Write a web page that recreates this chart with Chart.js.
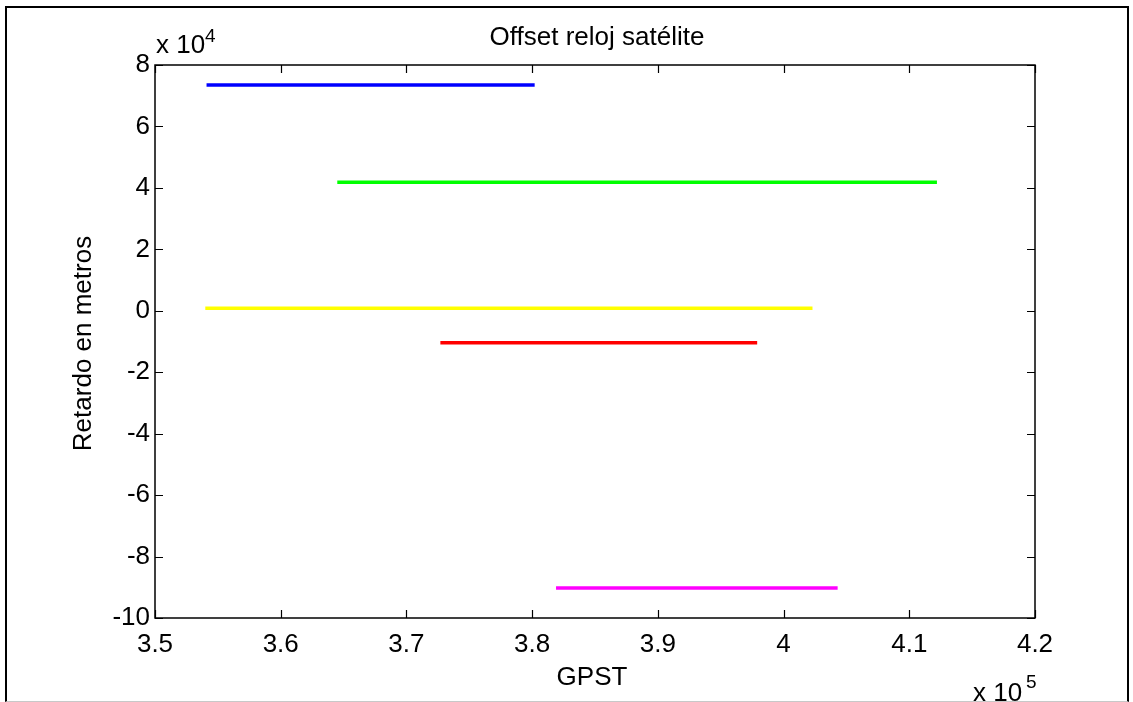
<!DOCTYPE html>
<html>
<head>
<meta charset="utf-8">
<title>Offset reloj satélite</title>
<script src="https://cdn.jsdelivr.net/npm/chart.js@4.4.1/dist/chart.umd.min.js"></script>
<style>
  html, body { margin: 0; padding: 0; background: #fff; }
  #marco {
    position: absolute; left: 5px; top: 6px; width: 1120px; height: 693px;
    border-left: 2px solid #000; border-top: 2px solid #000;
    border-right: 2px solid #000; border-bottom: 1px solid #c8c8c8;
  }
  #wrap { position: absolute; left: 0; top: 0; width: 1133px; height: 702px; }
</style>
</head>
<body>
<div id="marco"></div>
<div id="wrap"><canvas id="chart" width="1133" height="702"></canvas></div>
<script>
// inicio y fin (GPST, s) de cada satélite y su offset de reloj (m)
const tInicio = [354100, 364500, 354000, 372700, 381900];
const tFin = [380200, 412200, 402300, 397900, 404300];
const offsetReloj = [73500, 41800, 800, -10400, -90250];

const xTicks = [350000, 360000, 370000, 380000, 390000, 400000, 410000, 420000];
const yTicks = [-100000, -80000, -60000, -40000, -20000, 0, 20000, 40000, 60000, 80000];

const colores = ["#0000ff", "#00ff00", "#ffff00", "#ff0000", "#ff00ff"];
const fuente = "'Liberation Sans', Arial, sans-serif";

const datasets = offsetReloj.map((off, i) => ({
  label: "sat" + (i + 1),
  data: [{ x: tInicio[i], y: off }, { x: tFin[i], y: off }],
  borderColor: colores[i],
  backgroundColor: colores[i],
  borderWidth: 3.5,
  pointRadius: 0,
  tension: 0,
}));

// caja de ejes estilo matlab, ticks hacia dentro y textos
const ejesMatlab = {
  id: "ejesMatlab",
  afterDatasetsDraw(chart) {
    const ctx = chart.ctx;
    const a = chart.chartArea;
    const sx = chart.scales.x;
    const sy = chart.scales.y;
    const L = 8;
    ctx.save();
    ctx.strokeStyle = "#000";
    ctx.lineWidth = 1.5;
    ctx.strokeRect(a.left, a.top, a.right - a.left, a.bottom - a.top);
    ctx.lineWidth = 1.2;
    ctx.beginPath();
    xTicks.forEach((v) => {
      const px = Math.round(sx.getPixelForValue(v)) + 0.5;
      ctx.moveTo(px, a.bottom); ctx.lineTo(px, a.bottom - L);
      ctx.moveTo(px, a.top); ctx.lineTo(px, a.top + L);
    });
    yTicks.forEach((v) => {
      const py = Math.round(sy.getPixelForValue(v)) + 0.5;
      ctx.moveTo(a.left, py); ctx.lineTo(a.left + L, py);
      ctx.moveTo(a.right, py); ctx.lineTo(a.right - L, py);
    });
    ctx.stroke();

    ctx.fillStyle = "#000";
    ctx.textBaseline = "alphabetic";
    ctx.font = "26px " + fuente;
    ctx.textAlign = "center";
    ctx.fillText("Offset reloj satélite", (a.left + a.right) / 2 + 2, 45);
    ctx.fillText("GPST", (a.left + a.right) / 2 - 3, 685);

    // multiplicadores de los ejes
    ctx.textAlign = "left";
    ctx.fillText("x 10", a.left + 1, 53);
    ctx.fillText("x 10", 973, 701);
    ctx.font = "19px " + fuente;
    ctx.fillText("4", a.left + 50, 42);
    ctx.fillText("5", 1026, 688);

    ctx.font = "26px " + fuente;
    ctx.translate(91, (a.top + a.bottom) / 2 + 2);
    ctx.rotate(-Math.PI / 2);
    ctx.textAlign = "center";
    ctx.fillText("Retardo en metros", 0, 0);
    ctx.restore();
  },
};

new Chart(document.getElementById("chart"), {
  type: "line",
  data: { datasets: datasets },
  plugins: [ejesMatlab],
  options: {
    responsive: false,
    animation: false,
    layout: { padding: { top: 65, right: 98, left: 0, bottom: 0 } },
    plugins: { legend: { display: false }, tooltip: { enabled: false } },
    scales: {
      x: {
        type: "linear",
        min: 350000,
        max: 420000,
        afterFit: (s) => { s.height = 84; },
        afterBuildTicks: (s) => { s.ticks = xTicks.map((v) => ({ value: v })); },
        grid: { display: false, drawTicks: false },
        border: { display: false },
        ticks: {
          color: "#000",
          padding: 11,
          maxRotation: 0,
          font: { family: fuente, size: 26 },
          callback: (v) => String(Math.round(v / 1e4) / 10),
        },
      },
      y: {
        type: "linear",
        min: -100000,
        max: 80000,
        afterFit: (s) => { s.width = 155; },
        afterBuildTicks: (s) => { s.ticks = yTicks.map((v) => ({ value: v })); },
        grid: { display: false, drawTicks: false },
        border: { display: false },
        ticks: {
          color: "#000",
          padding: 5,
          font: { family: fuente, size: 26 },
          callback: (v) => String(Math.round(v / 1e4)),
        },
      },
    },
  },
});
</script>
</body>
</html>
